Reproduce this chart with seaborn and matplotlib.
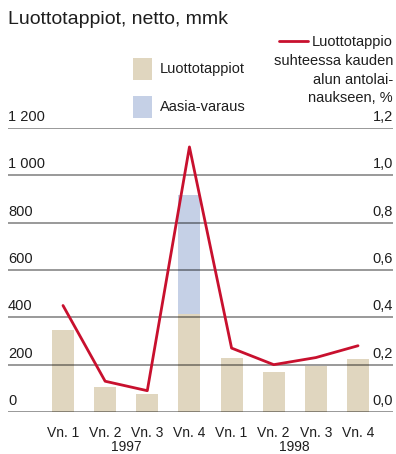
import numpy as np
import pandas as pd
import matplotlib
matplotlib.use("Agg")
import matplotlib.pyplot as plt
import matplotlib.transforms as mtransforms
from matplotlib.patches import Rectangle
from matplotlib.lines import Line2D
import seaborn as sns

# Quarterly data, 1997-1998
quarters = ["Vn. 1", "Vn. 2", "Vn. 3", "Vn. 4", "Vn. 1", "Vn. 2", "Vn. 3", "Vn. 4"]
years = ["1997", "1998"]
credit_losses = [345, 105, 75, 415, 230, 170, 195, 225]      # mmk
asia_reserve = [0, 0, 0, 500, 0, 0, 0, 0]                    # mmk
loss_ratio = [0.45, 0.13, 0.09, 1.12, 0.27, 0.20, 0.23, 0.28]  # %

left_ticks = [0, 200, 400, 600, 800, 1000, 1200]
left_labels = ["0", "200", "400", "600", "800", "1 000", "1 200"]
right_ticks = [0.0, 0.2, 0.4, 0.6, 0.8, 1.0, 1.2]
right_labels = ["0,0", "0,2", "0,4", "0,6", "0,8", "1,0", "1,2"]
ratio_legend_lines = ["Luottotappio", "suhteessa kauden", "alun antolai-", "naukseen, %"]

BEIGE = "#e0d6bf"
BLUE = "#c5d0e6"
RED = "#c8102e"
TEXT = "#1e1e1e"

sns.set_theme(style="white")
plt.rcParams["font.family"] = ["Liberation Sans Narrow", "Liberation Sans", "DejaVu Sans"]

W, H = 396, 454
fig = plt.figure(figsize=(W / 100, H / 100), dpi=100)

def fx(px):
    return px / W

def fy(py):
    return 1 - py / H

ax_left, ax_right = 8, 393
ax_top, ax_bottom = 128, 412
ax = fig.add_axes([fx(ax_left), fy(ax_bottom), fx(ax_right - ax_left), fy(ax_top) - fy(ax_bottom)])

idx = list(range(len(quarters)))
df = pd.DataFrame({
    "pos": idx,
    "loss": credit_losses,
    "total": np.array(credit_losses) + np.array(asia_reserve),
    "ratio": loss_ratio,
})

# Stacked bars: total (incl. Asia reserve) behind, credit losses in front
sns.barplot(data=df, x="pos", y="total", color=BLUE, width=0.52, saturation=1,
            ax=ax, zorder=1, linewidth=0)
sns.barplot(data=df, x="pos", y="loss", color=BEIGE, width=0.52, saturation=1,
            ax=ax, zorder=2, linewidth=0)

ax.set_ylim(0, 1200)
ax.set_xlim(-1.305, 7.83)

# Horizontal grid drawn over the bars
for t in left_ticks:
    ax.axhline(t, color="black", alpha=0.47, lw=1.2, zorder=3)

for s in ax.spines.values():
    s.set_visible(False)
ax.set_xlabel("")
ax.set_ylabel("")
ax.set_yticks([])
ax.set_xticks(idx)
ax.set_xticklabels(quarters, fontsize=10, color=TEXT)
ax.tick_params(axis="x", length=0, pad=10)

# Year labels under quarter labels
trans_x = mtransforms.blended_transform_factory(ax.transData, fig.transFigure)
ax.text(1.5, fy(447), years[0], transform=trans_x, ha="center", va="center",
        fontsize=10, color=TEXT)
ax.text(5.5, fy(447), years[1], transform=trans_x, ha="center", va="center",
        fontsize=10, color=TEXT)

# Left axis labels (above grid lines)
trans_l = mtransforms.blended_transform_factory(ax.transAxes, ax.transData)
for t, lab in zip(left_ticks, left_labels):
    ax.text(0.0, t + 30, lab, transform=trans_l, ha="left", va="baseline",
            fontsize=10.5, color=TEXT)

# Ratio line on secondary axis
ax2 = ax.twinx()
sns.lineplot(data=df, x="pos", y="ratio", color=RED, lw=2.0, ax=ax2, zorder=4)
ax2.set_ylim(0, 1.2)
ax2.set_yticks([])
ax2.set_ylabel("")
ax2.set_xlabel("")
for s in ax2.spines.values():
    s.set_visible(False)
trans_r = mtransforms.blended_transform_factory(ax2.transAxes, ax2.transData)
for t, lab in zip(right_ticks, right_labels):
    ax2.text(1.0, t + 0.030, lab, transform=trans_r, ha="right", va="baseline",
             fontsize=10.5, color=TEXT)

# Title
fig.text(fx(8), fy(20), "Luottotappiot, netto, mmk", ha="left", va="center",
         fontsize=14, color=TEXT)

# Legend
fig.patches.append(Rectangle((fx(133), fy(80)), fx(19), fy(58) - fy(80),
                             transform=fig.transFigure, color=BEIGE, lw=0))
fig.text(fx(160), fy(69), "Luottotappiot", ha="left", va="center", fontsize=10.5, color=TEXT)
fig.patches.append(Rectangle((fx(133), fy(118)), fx(19), fy(96) - fy(118),
                             transform=fig.transFigure, color=BLUE, lw=0))
fig.text(fx(160), fy(107), "Aasia-varaus", ha="left", va="center", fontsize=10.5, color=TEXT)

fig.lines.append(Line2D([fx(279), fx(308)], [fy(41), fy(41)], transform=fig.transFigure,
                        color=RED, lw=2.0))
for i, line in enumerate(ratio_legend_lines):
    fig.text(fx(393), fy(46 + 18.8 * i), line, ha="right", va="baseline",
             fontsize=10.5, color=TEXT)

fig.savefig("out.png", dpi=100)
